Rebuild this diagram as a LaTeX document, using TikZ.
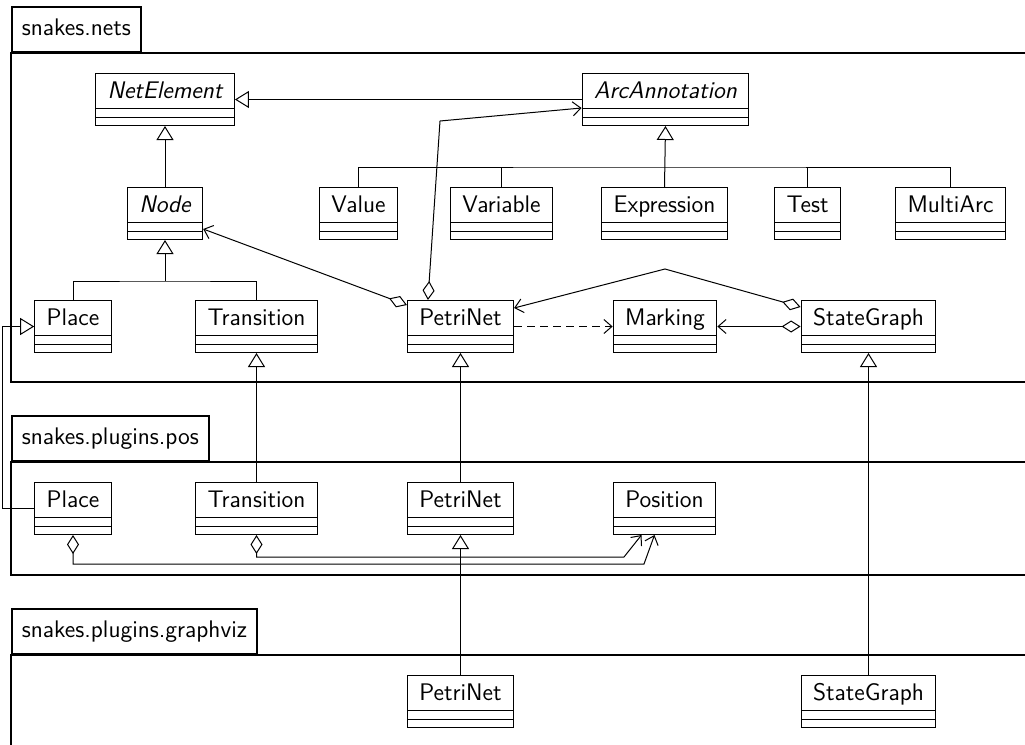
\documentclass[tikz,border=0pt]{standalone}
\usepackage{tikz}
\usetikzlibrary{arrows.meta}
\usetikzlibrary{calc}

\begin{document}
\begin{tikzpicture}[
    x=0.5pt, y=-0.5pt, line width=0.5pt,
    font=\fontsize{12}{14}\selectfont\sffamily,
    umlclass/.style={draw, anchor=north, inner xsep=6pt, inner ysep=0pt,
        text height=12.5pt, text depth=13.5pt,
        path picture={
          \draw ($(path picture bounding box.north west)+(0,35)$) -- ($(path picture bounding box.north east)+(0,35)$)
                ($(path picture bounding box.north west)+(0,43.5)$) -- ($(path picture bounding box.north east)+(0,43.5)$);
        }},
    abstractclass/.style={umlclass, font=\fontsize{12}{14}\selectfont\sffamily\itshape},
    pkgtab/.style={draw, line width=0.9pt, anchor=south west, inner xsep=5pt,
        minimum height=22.5pt, text height=8.5pt, text depth=2.5pt},
    pkgbody/.style={draw, line width=0.9pt},
    gen/.style={-{Triangle[open, length=7pt, width=8.5pt]}},
    assoc/.style={-{Straight Barb[length=4pt, width=7pt]}},
    agg/.style={{Diamond[open, length=9.5pt, width=6pt]}-{Straight Barb[length=4pt, width=7pt]}},
    dep/.style={assoc, dash pattern=on 4pt off 2.5pt},
  ]
  \useasboundingbox (0,0) rectangle (1025,745);

  %Packages
  \node[pkgtab] (netspkg) at (11,53)  {snakes.nets};
  \draw[pkgbody] (netspkg.south west) rectangle (1040,382);
  \node[pkgtab] (pospkg)  at (11,462) {snakes.plugins.pos};
  \draw[pkgbody] (pospkg.south west) rectangle (1040,575);
  \node[pkgtab] (gvpkg)   at (11,655) {snakes.plugins.graphviz};
  \draw[pkgbody] (gvpkg.south west) rectangle (1040,745.5);

  %Nodes: snakes.nets
  \node[abstractclass] (netelement) at (165,73)   {NetElement};
  \node[abstractclass] (arcann)     at (665.5,73) {ArcAnnotation};
  \node[abstractclass] (nodecls)    at (165,187)  {Node};
  \node[umlclass]      (value)      at (358.5,187) {Value};
  \node[umlclass]      (variable)   at (501.5,187) {Variable};
  \node[umlclass]      (expression) at (664.5,187) {Expression};
  \node[umlclass]      (test)       at (807.5,187) {Test};
  \node[umlclass]      (multiarc)   at (950.5,187) {MultiArc};
  \node[umlclass]      (place)      at (73,300)    {Place};
  \node[umlclass]      (transition) at (256.5,300) {Transition};
  \node[umlclass]      (petrinet)   at (460.5,300) {PetriNet};
  \node[umlclass]      (marking)    at (665,300)   {Marking};
  \node[umlclass]      (stategraph) at (868.5,300) {StateGraph};

  %Nodes: snakes.plugins.pos
  \node[umlclass]      (posplace)      at (73,482)    {Place};
  \node[umlclass]      (postransition) at (256.5,482) {Transition};
  \node[umlclass]      (pospetrinet)   at (460.5,482) {PetriNet};
  \node[umlclass]      (position)      at (664.5,482) {Position};

  %Nodes: snakes.plugins.graphviz
  \node[umlclass]      (gvpetrinet)    at (460.5,675) {PetriNet};
  \node[umlclass]      (gvstategraph)  at (868.5,675) {StateGraph};

  %Lines
  \coordinate (arcbar)  at (664.5,167);
  \coordinate (nodebar) at (165,281);
  \coordinate (pnbend)  at (440,121);
  \coordinate (sgpeak)  at (665,269);
  \coordinate (plbend)  at (644,564);
  \coordinate (trbend)  at (624,557);

  \draw[gen] (arcann.west) -- (netelement.east);
  \draw[gen] (nodecls.north) -- (netelement.south);
  \draw[gen] (expression.north) -- (arcann.south);
  \draw (value.north) |- (arcbar) -| (multiarc.north);
  \draw (variable.north) -- (variable.north |- arcbar);
  \draw (test.north) -- (test.north |- arcbar);
  \draw[gen] (nodebar) -- (nodecls.south);
  \draw (place.north) |- (nodebar) -| (transition.north);
  \draw[agg] ($(petrinet.north west)+(0,5)$) -- ($(nodecls.south east)+(0,-11)$);
  \draw[agg] ($(petrinet.north west)+(21,0)$) -- (pnbend) -- ($(arcann.north west)+(0,35)$);
  \draw[dep] (petrinet.east) -- (marking.west);
  \draw[agg] (stategraph.west) -- (marking.east);
  \draw[agg] ($(stategraph.north west)+(0,7)$) -- (sgpeak) -- ($(petrinet.north east)+(0,8)$);

  \draw[gen] (gvstategraph.north) -- (stategraph.south);
  \draw[gen] (pospetrinet.north) -- (petrinet.south);
  \draw[gen] (gvpetrinet.north) -- (pospetrinet.south);
  \draw[gen] (postransition.north) -- (transition.south);
  \draw[gen] (posplace.west) -- ++(-32,0) |- (place.west);
  \draw[agg] (posplace.south) |- (plbend) -- ($(position.south)+(-10,0)$);
  \draw[agg] (postransition.south) |- (trbend) -- ($(position.south)+(-23,0)$);
\end{tikzpicture}
\end{document}
